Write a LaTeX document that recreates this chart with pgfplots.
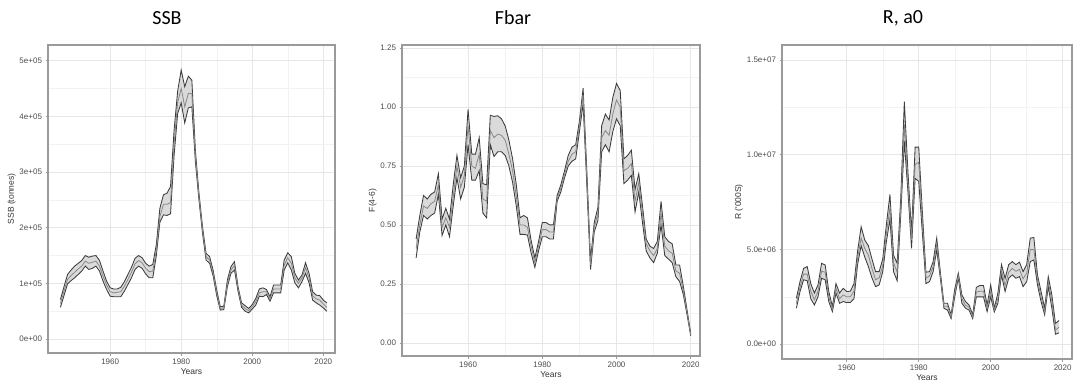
\documentclass[border=0pt]{standalone}
\usepackage{fontspec}
\setmainfont{Liberation Sans}
\newfontfamily\titlefont{Carlito}
\usepackage{pgfplots}
\pgfplotsset{compat=1.18}
\usepgfplotslibrary{fillbetween}
\usepackage{pgfplotstable}

\definecolor{edge}{HTML}{3C3C3C}
\definecolor{midc}{HTML}{888888}
\definecolor{bandfill}{HTML}{DADADA}
\definecolor{border}{HTML}{9A9A9A}
\definecolor{gmaj}{HTML}{E6E6E6}
\definecolor{gmin}{HTML}{F2F2F2}
\definecolor{ticklab}{HTML}{4D4D4D}

\pgfplotstableread{
year lo mid hi
1946 57000 64000 71000
1947 78000 86000 94000
1948 99000 107000 116000
1949 105000 114000 124000
1950 110000 120000 131000
1951 116000 126000 136000
1952 122000 131000 141000
1953 131000 140000 150000
1954 125000 136000 147000
1955 127000 138000 149000
1956 131000 140000 150000
1957 122000 131000 141000
1958 104000 113000 122000
1959 89000 97000 104000
1960 77000 85000 92000
1961 76000 83000 90000
1962 76000 84000 90000
1963 76000 85000 93000
1964 86000 95000 103000
1965 98000 107000 116000
1966 110000 120000 129000
1967 125000 135000 145000
1968 131000 141000 150000
1969 127000 137000 146000
1970 117000 127000 136000
1971 110000 121000 131000
1972 110000 122000 134000
1973 150000 160000 170000
1974 210000 220000 235000
1975 223000 242000 259000
1976 222000 242000 262000
1977 225000 245000 274000
1978 330000 350000 375000
1979 405000 425000 445000
1980 424000 450000 483000
1981 388000 417000 453000
1982 415000 441000 472000
1983 417000 441000 465000
1984 318000 328000 338000
1985 250000 256000 262000
1986 190000 196000 202000
1987 142000 148000 154000
1988 136000 142000 148000
1989 113000 118000 123000
1990 78000 83000 88000
1991 52000 55000 58000
1992 53000 56000 59000
1993 94000 100000 106000
1994 118000 124000 130000
1995 124000 132000 139000
1996 86000 90000 94000
1997 57000 61000 65000
1998 50000 55000 60000
1999 47000 51000 55000
2000 54000 58000 62000
2001 61000 67000 73000
2002 77000 83000 90000
2003 76000 85000 92000
2004 80000 85000 89000
2005 68000 72000 76000
2006 83000 90000 97000
2007 83000 90000 97000
2008 83000 90000 97000
2009 124000 133000 142000
2010 137000 146000 155000
2011 124000 136000 148000
2012 101000 110000 118000
2013 92000 100000 106000
2014 103000 110000 115000
2015 118000 128000 137000
2016 101000 110000 118000
2017 70000 78000 85000
2018 65000 72000 79000
2019 61000 70000 78000
2020 56000 63000 70000
2021 50000 57000 65000
}\ssbdata

\pgfplotstableread{
year lo mid hi
1946 0.36 0.40 0.44
1947 0.47 0.50 0.54
1948 0.54 0.58 0.625
1949 0.525 0.57 0.61
1950 0.54 0.59 0.63
1951 0.55 0.60 0.64
1952 0.63 0.67 0.717
1953 0.455 0.49 0.525
1954 0.50 0.53 0.57
1955 0.45 0.49 0.525
1956 0.58 0.62 0.67
1957 0.70 0.75 0.795
1958 0.61 0.66 0.70
1959 0.66 0.71 0.75
1960 0.84 0.92 0.99
1961 0.69 0.75 0.80
1962 0.69 0.74 0.80
1963 0.73 0.80 0.87
1964 0.55 0.61 0.675
1965 0.53 0.60 0.67
1966 0.84 0.90 0.965
1967 0.79 0.87 0.96
1968 0.81 0.885 0.963
1969 0.81 0.88 0.95
1970 0.795 0.86 0.92
1971 0.75 0.80 0.86
1972 0.68 0.73 0.78
1973 0.58 0.62 0.67
1974 0.46 0.50 0.53
1975 0.46 0.50 0.54
1976 0.457 0.49 0.53
1977 0.38 0.41 0.433
1978 0.32 0.34 0.36
1979 0.39 0.41 0.43
1980 0.45 0.48 0.51
1981 0.45 0.48 0.51
1982 0.44 0.47 0.50
1983 0.44 0.47 0.50
1984 0.60 0.61 0.625
1985 0.64 0.655 0.67
1986 0.70 0.715 0.73
1987 0.75 0.77 0.795
1988 0.77 0.80 0.83
1989 0.78 0.81 0.84
1990 0.895 0.92 0.94
1991 1.015 1.05 1.08
1992 0.67 0.70 0.73
1993 0.31 0.33 0.35
1994 0.47 0.49 0.51
1995 0.52 0.55 0.575
1996 0.81 0.87 0.92
1997 0.84 0.90 0.97
1998 0.81 0.88 0.945
1999 0.895 0.97 1.04
2000 0.95 1.03 1.10
2001 0.92 1.00 1.07
2002 0.675 0.73 0.78
2003 0.69 0.74 0.795
2004 0.71 0.76 0.817
2005 0.555 0.60 0.65
2006 0.64 0.68 0.717
2007 0.51 0.55 0.58
2008 0.39 0.42 0.44
2009 0.36 0.39 0.41
2010 0.34 0.37 0.40
2011 0.38 0.40 0.43
2012 0.50 0.55 0.60
2013 0.37 0.41 0.45
2014 0.355 0.39 0.43
2015 0.34 0.38 0.42
2016 0.28 0.305 0.33
2017 0.26 0.295 0.33
2018 0.205 0.22 0.24
2019 0.12 0.13 0.14
2020 0.03 0.035 0.04
}\fbardata

\pgfplotstableread{
year lo mid hi
1946 1.9e6 2.15e6 2.43e6
1947 2.78e6 3.0e6 3.3e6
1948 3.4e6 3.7e6 4.0e6
1949 3.35e6 3.7e6 4.1e6
1950 2.4e6 2.8e6 3.2e6
1951 2.07e6 2.35e6 2.7e6
1952 2.5e6 2.8e6 3.13e6
1953 3.48e6 3.85e6 4.27e6
1954 3.4e6 3.8e6 4.18e6
1955 2.25e6 2.5e6 2.78e6
1956 1.72e6 1.85e6 1.99e6
1957 2.7e6 2.95e6 3.2e6
1958 2.16e6 2.4e6 2.7e6
1959 2.25e6 2.6e6 2.95e6
1960 2.2e6 2.5e6 2.78e6
1961 2.2e6 2.5e6 2.8e6
1962 2.4e6 2.8e6 3.2e6
1963 4.2e6 4.55e6 4.9e6
1964 5.2e6 5.6e6 6.2e6
1965 4.6e6 5.05e6 5.5e6
1966 4.1e6 4.7e6 5.2e6
1967 3.5e6 4.0e6 4.5e6
1968 3.04e6 3.4e6 3.83e6
1969 3.13e6 3.5e6 3.83e6
1970 3.83e6 4.15e6 4.5e6
1971 5.4e6 5.85e6 6.3e6
1972 6.6e6 7.2e6 7.9e6
1973 3.83e6 4.3e6 4.7e6
1974 3.35e6 3.8e6 4.27e6
1975 6.8e6 7.2e6 7.7e6
1976 10.7e6 11.6e6 12.8e6
1977 8.05e6 8.5e6 9.1e6
1978 5.06e6 5.5e6 5.9e6
1979 8.75e6 9.5e6 10.4e6
1980 8.6e6 9.6e6 10.4e6
1981 5.9e6 6.5e6 7.0e6
1982 3.2e6 3.5e6 3.8e6
1983 3.3e6 3.6e6 3.83e6
1984 3.83e6 4.1e6 4.36e6
1985 4.97e6 5.3e6 5.6e6
1986 3.5e6 3.65e6 3.83e6
1987 1.9e6 2.0e6 2.16e6
1988 1.8e6 2.0e6 2.16e6
1989 1.35e6 1.45e6 1.55e6
1990 2.5e6 2.7e6 2.9e6
1991 3.5e6 3.6e6 3.75e6
1992 2.16e6 2.4e6 2.6e6
1993 1.9e6 2.05e6 2.25e6
1994 1.8e6 1.95e6 2.07e6
1995 1.35e6 1.45e6 1.55e6
1996 2.5e6 2.75e6 3.0e6
1997 2.5e6 2.8e6 3.1e6
1998 2.5e6 2.8e6 3.1e6
1999 1.72e6 1.9e6 2.07e6
2000 2.5e6 2.8e6 3.13e6
2001 1.7e6 1.8e6 1.9e6
2002 2.16e6 2.4e6 2.7e6
2003 3.66e6 3.9e6 4.2e6
2004 2.78e6 3.1e6 3.48e6
2005 3.48e6 3.8e6 4.2e6
2006 3.66e6 4.0e6 4.36e6
2007 3.48e6 3.85e6 4.2e6
2008 3.57e6 3.95e6 4.33e6
2009 3.04e6 3.45e6 3.83e6
2010 3.3e6 3.75e6 4.2e6
2011 4.36e6 5.0e6 5.6e6
2012 4.45e6 5.0e6 5.63e6
2013 3.13e6 3.4e6 3.66e6
2014 2.25e6 2.5e6 2.78e6
2015 1.55e6 1.7e6 1.9e6
2016 3.04e6 3.3e6 3.57e6
2017 1.9e6 2.3e6 2.6e6
2018 0.53e6 0.75e6 1.1e6
2019 0.6e6 0.9e6 1.25e6
}\rdata

\pgfplotsset{
  ggpanel/.style={
    scale only axis,
    anchor=south west,
    axis line style={draw=border, line width=1.2pt},
    grid=both,
    major grid style={draw=gmaj, line width=0.6pt},
    minor grid style={draw=gmin, line width=0.4pt},
    minor tick num=1,
    minor tick length=0pt,
    major tick length=2.5pt,
    tick align=outside,
    xtick pos=left, ytick pos=left,
    scaled y ticks=false,
    scaled x ticks=false,
    tick style={draw=border, line width=0.6pt},
    ticklabel style={font=\fontsize{8}{9}\selectfont, text=ticklab},
    label style={font=\fontsize{8.5}{10}\selectfont, text=black!80},
    xtick={1960,1980,2000,2020},
    xticklabels={1960,1980,2000,2020},
    xlabel={Years},
    xlabel style={yshift=3pt},
    clip=true,
  },
}

\newcommand{\band}[1]{%
  \addplot[name path=hi, draw=edge, line width=0.85pt] table[x=year,y=hi]{#1};
  \addplot[name path=lo, draw=edge, line width=0.85pt] table[x=year,y=lo]{#1};
  \addplot[fill=bandfill, draw=none] fill between[of=hi and lo];
  \addplot[draw=midc, line width=0.8pt] table[x=year,y=mid]{#1};
}

\begin{document}
\begin{tikzpicture}
\path (0pt,0pt) rectangle (1076pt,384pt);

% SSB panel
\begin{axis}[ggpanel, at={(48pt,31pt)}, width=287pt, height=308pt,
  xmin=1942.5, xmax=2023.3, ymin=-25000, ymax=528000,
  ytick={0,100000,200000,300000,400000,500000},
  yticklabels={0e+00,1e+05,2e+05,3e+05,4e+05,5e+05},
  ylabel={SSB (tonnes)}, ylabel style={yshift=-3pt}]
\band{\ssbdata}
\end{axis}

% Fbar panel
\begin{axis}[ggpanel, at={(402pt,28pt)}, width=298pt, height=311pt,
  xmin=1942.2, xmax=2022.5, ymin=-0.056, ymax=1.263,
  ytick={0,0.25,0.5,0.75,1,1.25},
  yticklabels={0.00,0.25,0.50,0.75,1.00,1.25},
  ylabel={F(4-6)}, ylabel style={yshift=-3pt}]
\band{\fbardata}
\end{axis}

% Recruitment panel
\begin{axis}[ggpanel, at={(782pt,25pt)}, width=290pt, height=314pt,
  xmin=1942.0, xmax=2022.6, ymin=-780000, ymax=15790000,
  ytick={0,5000000,10000000,15000000},
  yticklabels={0.0e+00,5.0e+06,1.0e+07,1.5e+07},
  ylabel={R (\textquotesingle 000S)}, ylabel style={yshift=-3pt}]
\band{\rdata}
\end{axis}

\node[font=\titlefont\fontsize{20}{22}\selectfont] at (167pt,366pt) {SSB};
\node[font=\titlefont\fontsize{20}{22}\selectfont] at (513pt,366pt) {Fbar};
\node[font=\titlefont\fontsize{20}{22}\selectfont] at (903pt,366pt) {R, a0};
\end{tikzpicture}
\end{document}
